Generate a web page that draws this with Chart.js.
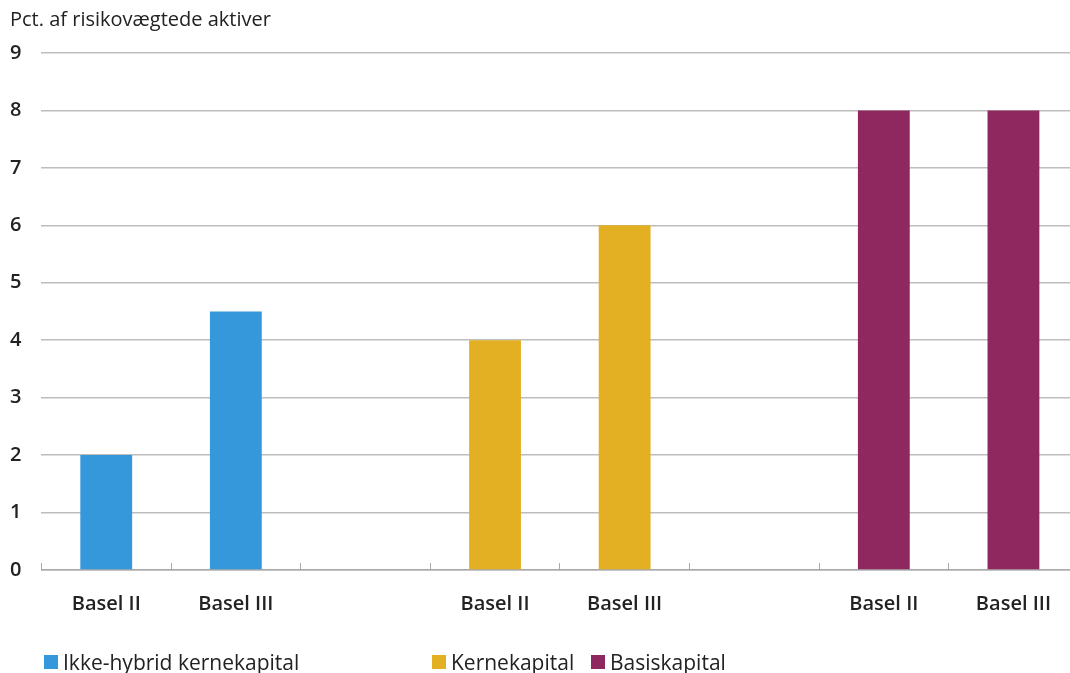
<!DOCTYPE html>
<html>
<head>
<meta charset="utf-8">
<script src="https://cdn.jsdelivr.net/npm/chart.js@4/dist/chart.umd.min.js"></script>
<style>
  html, body { margin: 0; background: #fff; font-family: 'Open Sans', sans-serif; overflow: hidden; }
  #wrap { position: relative; width: 1080px; height: 650px; }
  #legend { position: absolute; top: 650px; left: 0; width: 1070px; height: 24px; font-size: 21px; color: #222; }
  #legend span.item { position: absolute; top: 0; display: flex; align-items: center; height: 24px; white-space: nowrap; }
  #legend i { display: inline-block; width: 14px; height: 14px; margin-right: 5px; }
</style>
</head>
<body>
<div id="wrap"><canvas id="chart"></canvas></div>
<div id="legend"></div>
<script>
const categories = ['Basel II', 'Basel III', '', 'Basel II', 'Basel III', '', 'Basel II', 'Basel III'];
const seriesNames = ['Ikke-hybrid kernekapital', 'Kernekapital', 'Basiskapital'];
const ikkeHybrid = [2, 4.5, null, null, null, null, null, null];
const kernekapital = [null, null, null, 4, 6, null, null, null];
const basiskapital = [null, null, null, null, null, null, 8, 8];
const colors = ['#3498db', '#e3b024', '#8f285e'];
const legendLeft = [44, 432, 591];

const values = [ikkeHybrid, kernekapital, basiskapital];

new Chart(document.getElementById('chart'), {
  type: 'bar',
  data: {
    labels: categories,
    datasets: values.map((data, i) => ({
      label: seriesNames[i],
      data,
      backgroundColor: colors[i],
      barPercentage: 0.4,
      categoryPercentage: 1
    }))
  },
  options: {
    responsive: true,
    maintainAspectRatio: false,
    animation: false,
    layout: { padding: { left: 10, right: 0, top: 0, bottom: 5 } },
    plugins: {
      legend: { display: false },
      tooltip: { enabled: false },
      title: {
        display: true,
        text: 'Pct. af risikovægtede aktiver',
        align: 'start',
        color: '#222',
        font: { family: 'Open Sans', size: 20, weight: 'normal' },
        padding: { top: 8, bottom: 21 }
      }
    },
    datasets: { bar: { grouped: false } },
    scales: {
      x: {
        grid: { display: true, drawOnChartArea: false, tickLength: -7, color: '#aaa', offset: true },
        border: { color: '#aaa', width: 1.5 },
        ticks: { color: '#222', font: { family: 'Open Sans', size: 20, weight: '600' }, padding: 29, maxRotation: 0 }
      },
      y: {
        min: 0,
        max: 9,
        ticks: { stepSize: 1, color: '#222', padding: 10, crossAlign: 'far', font: { family: 'Open Sans', size: 20, weight: '600' } },
        grid: { color: '#bdbdbd', lineWidth: 1.5, drawTicks: false },
        border: { display: false }
      }
    }
  }
});

document.getElementById('legend').innerHTML = seriesNames.map((name, i) =>
  `<span class="item" style="left:${legendLeft[i]}px"><i style="background:${colors[i]}"></i>${name}</span>`).join('');
</script>
</body>
</html>
